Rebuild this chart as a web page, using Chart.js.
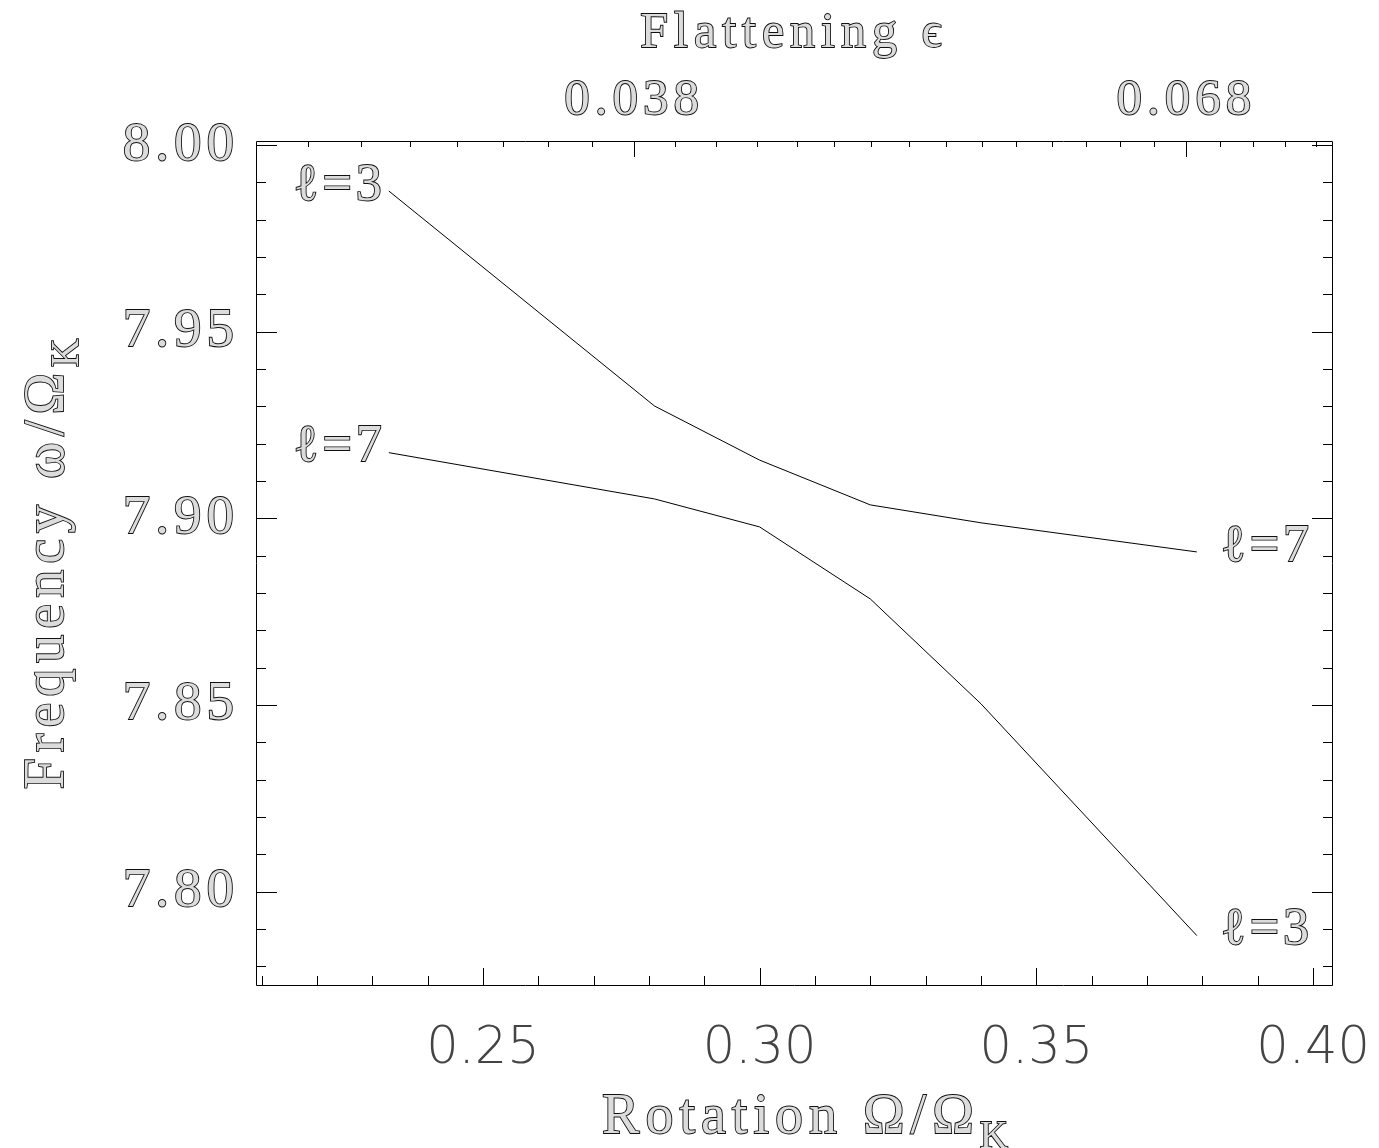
<!DOCTYPE html>
<html>
<head>
<meta charset="utf-8">
<title>Frequency vs rotation</title>
<script src="https://cdn.jsdelivr.net/npm/chart.js@4.4.1/dist/chart.umd.min.js"></script>
<style>
  html, body { margin: 0; padding: 0; background: #fff; }
  #wrap { width: 1379px; height: 1148px; }
</style>
</head>
<body>
<div id="wrap"><canvas id="chart" width="1379" height="1148"></canvas></div>
<script>
// rotation Omega/Omega_K of the computed models
const rotation = [0.233, 0.281, 0.300, 0.320, 0.340, 0.379];
// frequency omega/Omega_K of the two branches (l=3 and l=7 swap at the avoided crossing)
const branchUpper = [7.9877, 7.9301, 7.9156, 7.9036, 7.8988, 7.8910];
const branchLower = [7.9176, 7.9052, 7.8977, 7.8784, 7.8503, 7.7882];
const leftLabels = ['ℓ=3', 'ℓ=7'];
const rightLabels = ['ℓ=7', 'ℓ=3'];

// bottom axis (rotation)
const xTicks = [0.25, 0.30, 0.35, 0.40];
const xMinor = [0.21, 0.22, 0.23, 0.24, 0.25, 0.26, 0.27, 0.28, 0.29, 0.30,
                0.31, 0.32, 0.33, 0.34, 0.35, 0.36, 0.37, 0.38, 0.39, 0.40];
// left / right axis (frequency)
const yTicks = [7.80, 7.85, 7.90, 7.95, 8.00];
const yMinor = [7.78, 7.79, 7.80, 7.81, 7.82, 7.83, 7.84, 7.85, 7.86, 7.87, 7.88, 7.89,
                7.90, 7.91, 7.92, 7.93, 7.94, 7.95, 7.96, 7.97, 7.98, 7.99, 8.00];
// top axis: flattening epsilon, given at the rotation where it is reached
const epsLabels = ['0.038', '0.068'];
const epsMajorAt = [0.2773, 0.3771];
const epsMinorAt = [0.2184, 0.2279, 0.2368, 0.2453, 0.2537, 0.2617, 0.2697,
                    0.2847, 0.2921, 0.2995, 0.3067, 0.3134, 0.3202, 0.3270, 0.3336,
                    0.3401, 0.3463, 0.3528, 0.3589, 0.3651, 0.3712,
                    0.3831, 0.3891, 0.3949, 0.4005];

const xMin = 0.209, xMax = 0.4036;
const yMin = 7.7747, yMax = 8.0011;

const SERIF = "'Liberation Serif', 'DejaVu Serif', serif";
const INK = '#111';
const HOLLOW = '#dcdcdc';

function hollowText(ctx, text, x, y) {
    ctx.lineWidth = 1.8;
    ctx.strokeStyle = INK;
    ctx.fillStyle = HOLLOW;
    ctx.strokeText(text, x, y);
    ctx.fillText(text, x, y);
}

// main text followed by a lowered subscript, centred on cx
function textWithSub(ctx, main, sub, cx, base, size) {
    const mainFont = size + 'px ' + SERIF;
    const subFont = Math.round(size * 0.7) + 'px ' + SERIF;
    ctx.font = mainFont;
    const w1 = ctx.measureText(main).width;
    ctx.font = subFont;
    const w2 = ctx.measureText(sub).width;
    const x0 = cx - (w1 + w2) / 2;
    ctx.textAlign = 'left';
    ctx.textBaseline = 'alphabetic';
    ctx.font = mainFont;
    hollowText(ctx, main, x0, base);
    ctx.font = subFont;
    hollowText(ctx, sub, x0 + w1, base + size * 0.27);
}

// wide Hershey-like spacing for the serif tick labels (drawn before the datasets),
// normal spacing for the bottom sans labels (drawn after the datasets)
const spacing = {
    id: 'spacing',
    beforeDraw(chart) { chart.ctx.letterSpacing = '5px'; },
    afterDraw(chart) { chart.ctx.letterSpacing = '0px'; }
};

// frame with inward ticks on all four sides
const frameTicks = {
    id: 'frameTicks',
    afterDatasetsDraw(chart) {
        const { ctx, chartArea: a, scales } = chart;
        ctx.letterSpacing = '0px';
        const isMajor = (list, v) => list.some(t => Math.abs(t - v) < 1e-6);
        ctx.save();
        ctx.strokeStyle = '#000';
        ctx.lineWidth = 1;
        ctx.beginPath();
        ctx.rect(a.left + 0.5, a.top + 0.5, a.right - a.left - 1, a.bottom - a.top - 1);
        xMinor.forEach(v => {
            const x = Math.round(scales.x.getPixelForValue(v)) + 0.5;
            const len = isMajor(xTicks, v) ? 18 : 10;
            ctx.moveTo(x, a.bottom);
            ctx.lineTo(x, a.bottom - len);
        });
        yMinor.forEach(v => {
            const y = Math.round(scales.y.getPixelForValue(v)) + 0.5;
            const len = isMajor(yTicks, v) ? 21 : 10;
            ctx.moveTo(a.left, y);
            ctx.lineTo(a.left + len, y);
            ctx.moveTo(a.right, y);
            ctx.lineTo(a.right - len, y);
        });
        epsMinorAt.forEach(v => {
            const x = Math.round(scales.x.getPixelForValue(v)) + 0.5;
            ctx.moveTo(x, a.top);
            ctx.lineTo(x, a.top + 6);
        });
        epsMajorAt.forEach(v => {
            const x = Math.round(scales.x.getPixelForValue(v)) + 0.5;
            ctx.moveTo(x, a.top);
            ctx.lineTo(x, a.top + 16);
        });
        ctx.stroke();
        ctx.restore();
    }
};

// axis titles and the l= labels at the line ends
const annotations = {
    id: 'annotations',
    afterDraw(chart) {
        const { ctx } = chart;
        ctx.save();
        ctx.letterSpacing = '6px';
        textWithSub(ctx, 'Rotation Ω/Ω', 'K', 808, 1133, 56);
        ctx.save();
        ctx.translate(63, 561);
        ctx.rotate(-Math.PI / 2);
        textWithSub(ctx, 'Frequency ω/Ω', 'K', 0, 0, 56);
        ctx.restore();

        ctx.letterSpacing = '6px';
        ctx.font = '50px ' + SERIF;
        ctx.textAlign = 'center';
        ctx.textBaseline = 'alphabetic';
        hollowText(ctx, 'Flattening ϵ', 794, 47);

        ctx.letterSpacing = '4px';
        ctx.font = '52px ' + SERIF;
        ctx.textBaseline = 'middle';
        chart.data.datasets.forEach((ds, i) => {
            const pts = chart.getDatasetMeta(i).data;
            const first = pts[0], last = pts[pts.length - 1];
            ctx.textAlign = 'right';
            hollowText(ctx, leftLabels[i], first.x - 3, first.y - 5);
            ctx.textAlign = 'left';
            hollowText(ctx, rightLabels[i], last.x + 24, last.y - 5);
        });
        ctx.restore();
        ctx.letterSpacing = '0px';
    }
};

const noPad = s => { s.paddingLeft = 0; s.paddingRight = 0; s.paddingTop = 0; s.paddingBottom = 0; };
const lineStyle = { borderColor: '#000', borderWidth: 1, pointRadius: 0, showLine: true, fill: false };

new Chart(document.getElementById('chart'), {
    type: 'scatter',
    data: {
        datasets: [
            { ...lineStyle, data: rotation.map((x, i) => ({ x, y: branchUpper[i] })) },
            { ...lineStyle, data: rotation.map((x, i) => ({ x, y: branchLower[i] })) }
        ]
    },
    options: {
        responsive: false,
        animation: false,
        devicePixelRatio: 1,
        layout: { padding: { right: 46 } },
        plugins: { legend: { display: false }, tooltip: { enabled: false } },
        scales: {
            x: {
                type: 'linear', position: 'bottom', min: xMin, max: xMax,
                grid: { display: false, drawTicks: false }, border: { display: false },
                afterBuildTicks: s => { s.ticks = xTicks.map(v => ({ value: v })); },
                afterFit: s => { s.height = 162; noPad(s); },
                ticks: {
                    z: 1, padding: 33, maxRotation: 0, color: '#444',
                    font: { family: "'DejaVu Sans', sans-serif", size: 51, weight: '200' },
                    callback: v => v.toFixed(2)
                }
            },
            xTop: {
                type: 'linear', position: 'top', min: xMin, max: xMax,
                grid: { display: false, drawTicks: false }, border: { display: false },
                afterBuildTicks: s => { s.ticks = epsMajorAt.map(v => ({ value: v })); },
                afterFit: s => { s.height = 141; noPad(s); },
                ticks: {
                    padding: 10, maxRotation: 0, autoSkip: false,
                    color: HOLLOW, textStrokeColor: INK, textStrokeWidth: 1.8,
                    font: { family: SERIF, size: 51 },
                    callback: (v, i) => epsLabels[i]
                }
            },
            y: {
                type: 'linear', position: 'left', min: yMin, max: yMax,
                grid: { display: false, drawTicks: false }, border: { display: false },
                afterBuildTicks: s => { s.ticks = yTicks.map(v => ({ value: v })); },
                afterFit: s => { s.width = 256; noPad(s); },
                ticks: {
                    padding: 17,
                    color: HOLLOW, textStrokeColor: INK, textStrokeWidth: 1.8,
                    font: { family: SERIF, size: 55 },
                    callback: v => v.toFixed(2)
                }
            }
        }
    },
    plugins: [spacing, frameTicks, annotations]
});
</script>
</body>
</html>
